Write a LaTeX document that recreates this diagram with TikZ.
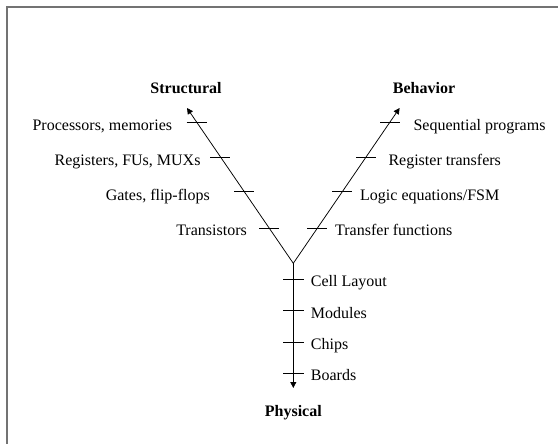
\documentclass[tikz,border=0pt]{standalone}
\usepackage{fontspec}
\setmainfont{Liberation Serif}
\usetikzlibrary{arrows.meta,calc}
\begin{document}
\begin{tikzpicture}[x=1pt,y=-1pt,
  lbl/.style={inner sep=0pt,font=\fontsize{16}{19}\selectfont},
  ttl/.style={inner sep=0pt,font=\fontsize{16}{19}\selectfont\bfseries},
  axis/.style={line width=0.75pt,-{Triangle[length=6pt,width=6pt]}},
  tickmark/.style={line width=0.75pt},
  frameline/.style={line width=1.8pt,draw=black!55}]
\useasboundingbox (0,0) rectangle (558,444);
\draw[frameline] (7,444) -- (7,7) -- (558,7);
% axes
\coordinate (v) at (293.3,263.3);
\coordinate (st) at (187,108);
\coordinate (bt) at (399.6,108);
\coordinate (pt) at (293.3,388);
\draw[axis] (v) -- (st);
\draw[axis] (v) -- (bt);
\draw[axis] (v) -- (pt);
% ticks on the two arms
\foreach \t [count=\i] in {0.91,0.685,0.46,0.227} {
  \coordinate (sl\i) at ($(v)!\t!(st)$);
  \coordinate (bl\i) at ($(v)!\t!(bt)$);
  \draw[tickmark] ([xshift=-10pt]sl\i) -- ([xshift=10pt]sl\i);
  \draw[tickmark] ([xshift=-10pt]bl\i) -- ([xshift=10pt]bl\i);
}
% ticks on the vertical axis
\foreach \y [count=\i] in {279.3,310.7,342,373.3} {
  \coordinate (pl\i) at (293.3,\y);
  \draw[tickmark] ([xshift=-10.3pt]pl\i) -- ([xshift=10.3pt]pl\i);
}
% titles
\node[ttl,anchor=base] (structural) at (186,93.3) {Structural};
\node[ttl,anchor=base] (behavior) at (424,93.3) {Behavior};
\node[ttl,anchor=base] (physical) at (293.3,416) {Physical};
% structural labels
\node[lbl,anchor=base east] (proc) at (172.3,130.5) {Processors, memories};
\node[lbl,anchor=base east] (regs) at (200.7,165.5) {Registers, FUs, MUXs};
\node[lbl,anchor=base east] (gates) at (210,200.5) {Gates, flip-flops};
\node[lbl,anchor=base east] (trans) at (247,236) {Transistors};
% behavioral labels
\node[lbl,anchor=base west] (seq) at (413.3,130.5) {Sequential programs};
\node[lbl,anchor=base west] (rt) at (388.3,165) {Register transfers};
\node[lbl,anchor=base west] (logic) at (360,200.5) {Logic equations/FSM};
\node[lbl,anchor=base west] (tf) at (335,236) {Transfer functions};
% physical labels
\node[lbl,anchor=base west] (cell) at (310.7,286.7) {Cell Layout};
\node[lbl,anchor=base west] (mod) at (310.7,318.2) {Modules};
\node[lbl,anchor=base west] (chips) at (310.7,349.4) {Chips};
\node[lbl,anchor=base west] (boards) at (310.7,380.6) {Boards};
\end{tikzpicture}
\end{document}
